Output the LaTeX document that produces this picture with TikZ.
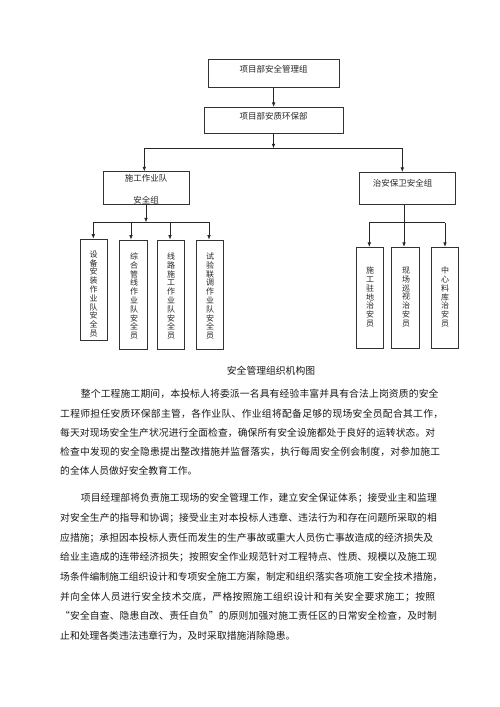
\documentclass[tikz,border=0pt]{standalone}
\usepackage{fontspec}
\setmainfont{Noto Sans CJK SC}
\usetikzlibrary{arrows.meta}
\makeatletter
\def\spreadline#1#2{\hbox to #1{\spr@ad#2\relax\unskip}}
\def\spr@ad#1{\ifx\relax#1\else#1\hskip0pt plus 1fil\expandafter\spr@ad\fi}
\makeatother
\begin{document}
\begin{tikzpicture}[x=1pt,y=-1pt,
  box/.style={draw=black!80, line width=0.7pt, inner sep=0pt},
  arr/.style={-{Latex[length=4.5pt,width=3.6pt]}, line width=0.7pt, draw=black!85},
  ln/.style={line width=0.7pt, draw=black!85},
  lbl/.style={font=\fontsize{8.5}{8.5}\selectfont, inner sep=0pt, text height=7.5pt, text depth=1pt, text=black!85},
  vtxt/.style={font=\fontsize{8}{8.8}\selectfont, align=center, inner sep=0pt, text=black!85},
  body/.style={font=\fontsize{9.8}{9.8}\selectfont, inner sep=0pt, anchor=west, text height=8.6pt, text depth=1.2pt, text=black!90}]
\useasboundingbox[fill=white] (0,0) rectangle (500,707);

% boxes
\node[box, minimum width=131.3pt, minimum height=28.4pt] (b1) at (273.65,73.5) {};
\node[box, minimum width=139pt, minimum height=26pt] (b2) at (273.5,120.3) {};
\node[box, minimum width=86pt, minimum height=32.6pt] (b3) at (146.3,188) {};
\node[box, minimum width=95.7pt, minimum height=32pt] (b4) at (407.2,188.3) {};
\node[box, minimum width=27.3pt, minimum height=101pt] (ca) at (93.65,289.5) {};
\node[box, minimum width=28pt, minimum height=109.3pt] (cb) at (133.3,294.65) {};
\node[box, minimum width=27.3pt, minimum height=109.3pt] (cc) at (170.65,294.65) {};
\node[box, minimum width=27.3pt, minimum height=109.3pt] (cd) at (209.65,294.65) {};
\node[box, minimum width=27.3pt, minimum height=101pt] (r1) at (369.65,297.8) {};
\node[box, minimum width=27.3pt, minimum height=101pt] (r2) at (405.35,297.8) {};
\node[box, minimum width=27.3pt, minimum height=101pt] (r3) at (444.65,297.8) {};

% labels
\node[lbl] (t1) at (273.7,69) {项目部安全管理组};
\node[lbl] (t2) at (273.7,116.7) {项目部安质环保部};
\node[lbl] (t3a) at (146,178.3) {施工作业队};
\node[lbl] (t3b) at (146,200) {安全组};
\node[lbl] (t4) at (402.7,183.3) {治安保卫安全组};

\node[vtxt] (va) at (93.5,294) {设\\备\\安\\装\\作\\业\\队\\安\\全\\员};
\node[vtxt] (vb) at (134,296) {综\\合\\管\\线\\作\\业\\队\\安\\全\\员};
\node[vtxt] (vc) at (171,296) {线\\路\\施\\工\\作\\业\\队\\安\\全\\员};
\node[vtxt] (vd) at (210,296) {试\\验\\联\\调\\作\\业\\队\\安\\全\\员};
\node[vtxt] (vr1) at (370,297) {施\\工\\驻\\地\\治\\安\\员};
\node[vtxt] (vr2) at (406,297) {现\\场\\巡\\视\\治\\安\\员};
\node[vtxt] (vr3) at (445,297) {中\\心\\料\\库\\治\\安\\员};

% connectors
\draw[arr] (b1.south) -- (b1.south |- b2.north);
\coordinate (j1) at (273.5,148.3);
\coordinate (hl) at (144.3,148.3);
\coordinate (hr) at (402.3,148.3);
\draw[arr] (j1 |- b2.south) -- (j1);
\draw[ln] (hl) -- (hr);
\draw[arr] (hl) -- (hl |- b3.north);
\draw[arr] (hr) -- (hr |- b4.north);

\coordinate (j2) at (146,222.3);
\coordinate (la) at (93.3,222.3);
\coordinate (lb) at (131,222.3);
\coordinate (lc) at (170,222.3);
\coordinate (ld) at (209,222.3);
\draw[arr] (j2 |- b3.south) -- (j2);
\draw[ln] (la) -- (ld);
\draw[arr] (la) -- (la |- ca.north);
\draw[arr] (lb) -- (lb |- cb.north);
\draw[arr] (lc) -- (lc |- cc.north);
\draw[arr] (ld) -- (ld |- cd.north);

\coordinate (k) at (404,222.7);
\coordinate (ka) at (369.3,222.7);
\coordinate (kc) at (445,222.7);
\draw[arr] (k |- b4.south) -- (k |- r2.north);
\draw[ln] (ka) -- (kc);
\draw[arr] (ka) -- (ka |- r1.north);
\draw[arr] (kc) -- (kc |- r3.north);

% caption
\node[body, anchor=center] (cap) at (271,370.7) {安全管理组织机构图};

% paragraph 1
\node[body] (p1) at (80.7,394) {\spreadline{357.6pt}{整个工程施工期间，本投标人将委派一名具有经验丰富并具有合法上岗资质的安全}};
\node[body] (p2) at (60,413.3) {\spreadline{383pt}{工程师担任安质环保部主管，各作业队、作业组将配备足够的现场安全员配合其工作，}};
\node[body] (p3) at (60,432.7) {\spreadline{375pt}{每天对现场安全生产状况进行全面检查，确保所有安全设施都处于良好的运转状态。对}};
\node[body] (p4) at (60,451.7) {\spreadline{380pt}{检查中发现的安全隐患提出整改措施并监督落实，执行每周安全例会制度，对参加施工}};
\node[body] (p5) at (60,470.7) {的全体人员做好安全教育工作。};

% paragraph 2
\node[body] (q1) at (80.7,498) {\spreadline{356pt}{项目经理部将负责施工现场的安全管理工作，建立安全保证体系；接受业主和监理}};
\node[body] (q2) at (60,517.7) {\spreadline{376.7pt}{对安全生产的指导和协调；接受业主对本投标人违章、违法行为和存在问题所采取的相}};
\node[body] (q3) at (60,537.4) {\spreadline{373pt}{应措施；承担因本投标人责任而发生的生产事故或重大人员伤亡事故造成的经济损失及}};
\node[body] (q4) at (60,557.1) {\spreadline{376.7pt}{给业主造成的连带经济损失；按照安全作业规范针对工程特点、性质、规模以及施工现}};
\node[body] (q5) at (60,576.8) {\spreadline{380pt}{场条件编制施工组织设计和专项安全施工方案，制定和组织落实各项施工安全技术措施，}};
\node[body] (q6) at (60,596.5) {\spreadline{375pt}{并向全体人员进行安全技术交底，严格按照施工组织设计和有关安全要求施工；按照}};
\node[body] (q7) at (60,616.2) {\spreadline{376.7pt}{“安全自查、隐患自改、责任自负”的原则加强对施工责任区的日常安全检查，及时制}};
\node[body] (q8) at (60,635.9) {止和处理各类违法违章行为，及时采取措施消除隐患。};
\end{tikzpicture}
\end{document}
